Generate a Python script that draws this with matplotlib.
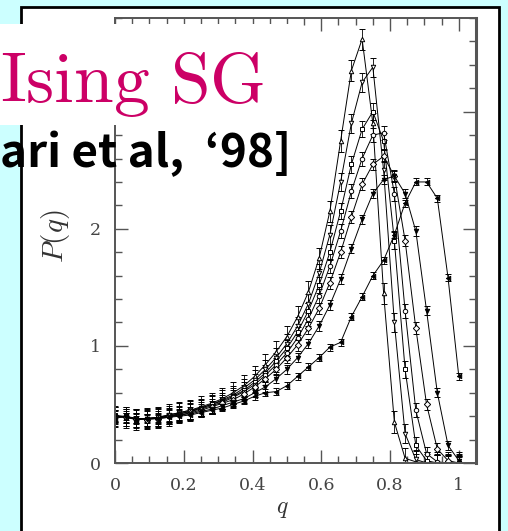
import numpy as np
import matplotlib.pyplot as plt
from matplotlib.patches import Rectangle
from matplotlib.ticker import MultipleLocator

plt.rcParams['mathtext.fontset'] = 'cm'

# q bins (step 1/32) shared by all curves
q = [i / 32 for i in range(33)]

# P(q) for the seven curves, sharpest peak first
p1 = [0.40, 0.39, 0.37, 0.38, 0.39, 0.41, 0.43, 0.45, 0.48, 0.51, 0.55, 0.60, 0.66,
      0.74, 0.84, 0.95, 1.08, 1.25, 1.46, 1.75, 2.15, 2.75, 3.35, 3.62, 2.90, 1.45,
      0.35, 0.04, 0.01, 0.0, 0.0, 0.0, 0.0]
p2 = [0.40, 0.40, 0.38, 0.38, 0.39, 0.41, 0.43, 0.45, 0.47, 0.50, 0.54, 0.58, 0.64,
      0.71, 0.80, 0.90, 1.02, 1.17, 1.36, 1.62, 1.95, 2.40, 2.90, 3.25, 3.38, 2.50,
      1.20, 0.25, 0.03, 0.0, 0.0, 0.0, 0.0]
p3 = [0.41, 0.39, 0.38, 0.38, 0.39, 0.40, 0.42, 0.44, 0.47, 0.50, 0.53, 0.57, 0.62,
      0.69, 0.77, 0.87, 0.98, 1.12, 1.30, 1.52, 1.80, 2.15, 2.55, 2.85, 3.00, 2.75,
      1.90, 0.80, 0.15, 0.02, 0.0, 0.0, 0.0]
p4 = [0.39, 0.40, 0.37, 0.38, 0.38, 0.40, 0.42, 0.44, 0.46, 0.49, 0.52, 0.56, 0.61,
      0.67, 0.75, 0.84, 0.94, 1.07, 1.23, 1.43, 1.68, 1.98, 2.32, 2.60, 2.80, 2.82,
      2.30, 1.30, 0.45, 0.08, 0.01, 0.0, 0.0]
p5 = [0.40, 0.39, 0.38, 0.37, 0.38, 0.40, 0.41, 0.43, 0.45, 0.48, 0.51, 0.54, 0.59,
      0.65, 0.72, 0.80, 0.90, 1.01, 1.15, 1.32, 1.54, 1.80, 2.10, 2.38, 2.55, 2.62,
      2.45, 1.90, 1.15, 0.50, 0.12, 0.02, 0.0]
p6 = [0.40, 0.39, 0.38, 0.38, 0.38, 0.39, 0.41, 0.42, 0.44, 0.46, 0.49, 0.52, 0.55,
      0.60, 0.65, 0.72, 0.80, 0.90, 1.02, 1.17, 1.35, 1.57, 1.83, 2.08, 2.30, 2.42,
      2.45, 2.30, 1.98, 1.30, 0.60, 0.15, 0.02]
p7 = [0.38, 0.40, 0.37, 0.38, 0.38, 0.39, 0.40, 0.41, 0.43, 0.45, 0.47, 0.50, 0.53,
      0.57, 0.60, 0.61, 0.66, 0.74, 0.82, 0.90, 0.99, 1.03, 1.25, 1.42, 1.60, 1.73,
      1.95, 2.22, 2.40, 2.40, 2.26, 1.58, 0.74]
curves = [p1, p2, p3, p4, p5, p6, p7]
errs = [0.09, 0.08, 0.07, 0.06, 0.05, 0.04, 0.03]

markers = ['^', 'v', 's', 'o', 'D', 'v', '<']
faces = ['white', 'white', 'white', 'white', 'white', 'black', 'black']

xticks = [0, 0.2, 0.4, 0.6, 0.8, 1]
xticklabels = ['0', '0.2', '0.4', '0.6', '0.8', '1']
yticks = [0, 1, 2, 3]
yticklabels = ['0', '1', '2', '']   # "3" sits under the title block

W, H = 508, 531
fig = plt.figure(figsize=(W / 100, H / 100), dpi=100)
fig.patch.set_facecolor('#ccffff')

# white picture frame behind the plot
fig.add_artist(Rectangle((21 / W, -0.05), 478 / W, 1.05 - 7 / H,
                         transform=fig.transFigure, facecolor='white',
                         edgecolor='black', lw=2, zorder=-1))

ax = fig.add_axes([115 / W, 1 - 463 / H, 361 / W, 445 / H])
for p, e, m, fc in zip(curves, errs, markers, faces):
    ax.errorbar(q, p, yerr=e, color='black', lw=0.7, elinewidth=0.6, capsize=2,
                marker=m, ms=3.2, mfc=fc, mec='black', mew=0.7)

ax.set_xlim(0, 1.05)
ax.set_ylim(0, 3.8)
ax.set_xticks(xticks)
ax.set_xticklabels(xticklabels)
ax.set_yticks(yticks)
ax.set_yticklabels(yticklabels)
ax.xaxis.set_minor_locator(MultipleLocator(0.05))
ax.yaxis.set_minor_locator(MultipleLocator(0.2))
ax.tick_params(which='both', direction='in', top=True, right=True,
               color='#555555', width=1.0, labelcolor='#444444',
               labelfontfamily='DejaVu Serif', labelsize=12.5)
ax.tick_params(which='major', length=9.5, pad=10)
ax.tick_params(which='minor', length=5)
for s in ax.spines.values():
    s.set_color('#555555')
    s.set_linewidth(1.4)
ax.spines['right'].set_linewidth(2.2)

ax.set_ylabel('$P(q)$', fontsize=21, color='#333333')
ax.yaxis.set_label_coords(-0.12, 0.51)
ax.set_xlabel('$q$', fontsize=17, color='#333333')
ax.xaxis.set_label_coords(0.465, -0.074)

# title block laid over the top-left of the frame
fig.add_artist(Rectangle((0, 1 - 125 / H), 300 / W, 101 / H,
                         transform=fig.transFigure, facecolor='white',
                         edgecolor='none', zorder=5))
fig.text(0, 1 - 102 / H, r'$\mathrm{Ising\ SG}$',
         fontsize=51.5, color='#cc0066', ha='left', va='baseline', zorder=6)
fig.text(0, 1 - 167 / H, 'ari et al,  \u201898]',
         family=['Noto Sans CJK JP', 'DejaVu Sans'], fontweight='bold',
         fontsize=33, color='black', ha='left', va='baseline', zorder=6)

fig.savefig('out.png', dpi=100, facecolor=fig.get_facecolor())
